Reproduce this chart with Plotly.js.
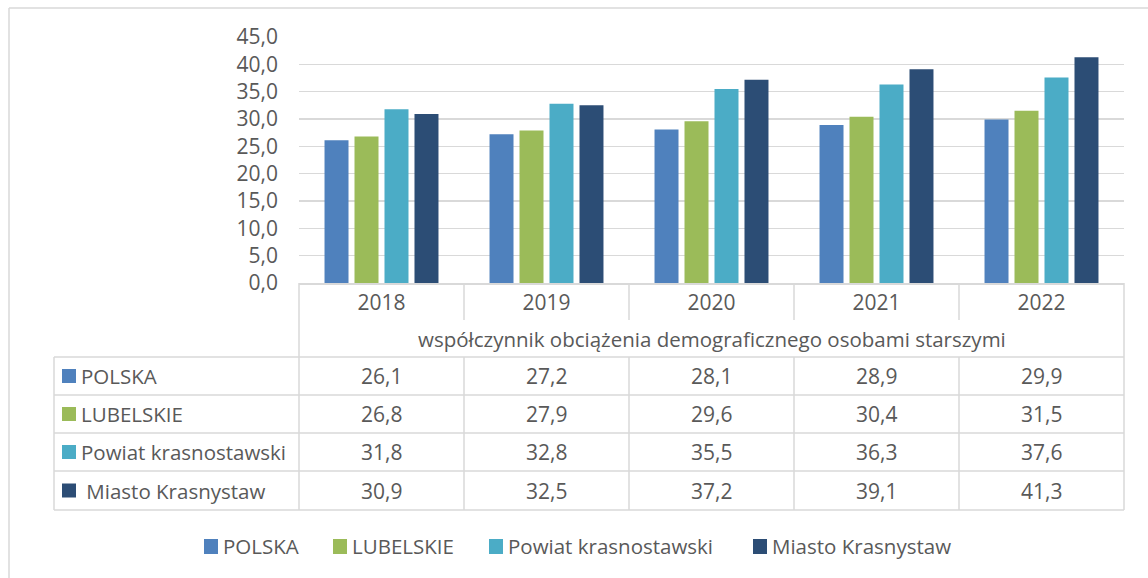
<!DOCTYPE html>
<html>
<head>
<meta charset="utf-8">
<script src="https://cdn.plot.ly/plotly-3.0.1.min.js"></script>
<style>html,body{margin:0;padding:0;background:#fff;}#chart{width:1148px;height:578px;}</style>
</head>
<body>
<div id="chart"></div>
<script>
// ---- data ----
const years = ['2018', '2019', '2020', '2021', '2022'];
const seriesNames = ['POLSKA', 'LUBELSKIE', 'Powiat krasnostawski', 'Miasto Krasnystaw'];
const tableLabels = ['POLSKA', 'LUBELSKIE', 'Powiat krasnostawski', '\u00a0Miasto Krasnystaw'];
const polska = [26.1, 27.2, 28.1, 28.9, 29.9];
const lubelskie = [26.8, 27.9, 29.6, 30.4, 31.5];
const powiat = [31.8, 32.8, 35.5, 36.3, 37.6];
const miasto = [30.9, 32.5, 37.2, 39.1, 41.3];
const rowTitle = 'współczynnik obciążenia demograficznego osobami starszymi';
const colors = ['#4F81BD', '#9BBB59', '#4BACC6', '#2C4D75'];

const allSeries = [polska, lubelskie, powiat, miasto];
const FONT = 'Open Sans, Noto Sans, sans-serif';
const TXT = '#595959';
const GRID = '#D9D9D9';
const FS = 20.5;   // text
const FN = 21;     // numbers

// geometry helpers (pixel -> paper)
const L = 299, R = 1124, T = 37, B = 283;
const px = x => (x - L) / (R - L);
const py = y => (B - y) / (B - T);
const fmt = v => v.toFixed(1).replace('.', ',');

const traces = allSeries.map((vals, i) => ({
  type: 'bar', name: seriesNames[i], x: years, y: vals,
  marker: {color: colors[i], line: {width: 0}},
  hoverinfo: 'x+y+name'
}));

const shapes = [];
const annotations = [];
const line = (x0, y0, x1, y1) => shapes.push({type: 'line', xref: 'paper', yref: 'paper',
  x0: x0, y0: y0, x1: x1, y1: y1, line: {color: GRID, width: 1.5}, layer: 'below'});

// outer frame
line(px(9), py(8), px(1160), py(8));
line(px(9), py(8), px(9), py(590));

// category row verticals
const n = years.length;
for (let i = 0; i <= n; i++) {
  const x = i / n;
  if (i === 0 || i === n) line(x, 0, x, py(510));
  else line(x, 0, x, py(320));
}
// data rows
const rowTops = [357, 395, 433, 471, 510];
rowTops.forEach(y => line(px(54), py(y), 1, py(y)));
line(px(54), py(357), px(54), py(510));
for (let i = 1; i < n; i++) line(i / n, py(357), i / n, py(510));

// row title
annotations.push({xref: 'paper', yref: 'paper', x: 0.5, y: py(339), text: rowTitle,
  showarrow: false, xanchor: 'center', yanchor: 'middle', font: {family: FONT, size: FS, color: TXT}});

// data rows: keys, labels, values
allSeries.forEach((vals, r) => {
  const yc = (rowTops[r] + rowTops[r + 1]) / 2;
  shapes.push({type: 'rect', xref: 'paper', yref: 'paper', x0: px(62), x1: px(76),
    y0: py(yc - 7), y1: py(yc + 7), fillcolor: colors[r], line: {width: 0}});
  annotations.push({xref: 'paper', yref: 'paper', x: px(79), y: py(yc), text: tableLabels[r],
    showarrow: false, xanchor: 'left', yanchor: 'middle', font: {family: FONT, size: FS, color: TXT}});
  vals.forEach((v, c) => {
    annotations.push({xref: 'paper', yref: 'paper', x: (c + 0.5) / n, y: py(yc), text: fmt(v),
      showarrow: false, xanchor: 'center', yanchor: 'middle', font: {family: FONT, size: FN, color: TXT}});
  });
});

// bottom legend
const legX = [204, 333, 489, 753];
seriesNames.forEach((nm, i) => {
  shapes.push({type: 'rect', xref: 'paper', yref: 'paper', x0: px(legX[i]), x1: px(legX[i] + 14),
    y0: py(554), y1: py(539), fillcolor: colors[i], line: {width: 0}});
  annotations.push({xref: 'paper', yref: 'paper', x: px(legX[i] + 17), y: py(546), text: nm,
    showarrow: false, xanchor: 'left', yanchor: 'middle', font: {family: FONT, size: FS, color: TXT}});
});

const layout = {
  width: 1148, height: 578,
  margin: {l: L, r: 1148 - R, t: T, b: 578 - B, pad: 0},
  paper_bgcolor: '#fff', plot_bgcolor: '#fff',
  separators: ', ',
  showlegend: false,
  barmode: 'group', bargap: 0.273, bargroupgap: 0.2,
  font: {family: FONT, size: FS, color: TXT},
  xaxis: {type: 'category', range: [-0.5, 4.5], showgrid: false, zeroline: false,
    showline: true, linecolor: GRID, linewidth: 1.5, ticks: '',
    tickfont: {family: FONT, size: FN, color: TXT}, fixedrange: true},
  yaxis: {range: [0, 45], dtick: 5, tick0: 0, tickformat: '.1f', showgrid: true,
    gridcolor: GRID, gridwidth: 1.5, zeroline: false, showline: false, ticks: '',
    ticklabelstandoff: 20, tickfont: {family: FONT, size: FN, color: TXT}, fixedrange: true},
  shapes: shapes,
  annotations: annotations
};

Plotly.newPlot('chart', traces, layout, {displayModeBar: false, staticPlot: true});
</script>
</body>
</html>
